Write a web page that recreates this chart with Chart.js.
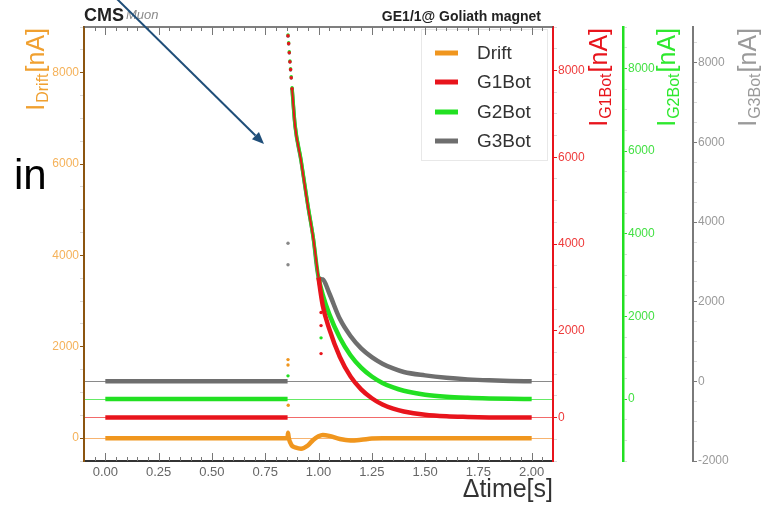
<!DOCTYPE html>
<html>
<head>
<meta charset="utf-8">
<title>GE1/1 currents at Goliath magnet</title>
<script src="https://cdn.jsdelivr.net/npm/chart.js@4.4.1/dist/chart.umd.min.js"></script>
<style>
  html, body { margin: 0; padding: 0; background: #fff; }
  #wrap { position: relative; width: 761px; height: 505px; }
  #side { position: absolute; left: 14px; top: 154px; font: 42px/42px "Liberation Sans", Arial, sans-serif; color: #000; }
</style>
</head>
<body>
<div id="wrap">
  <canvas id="chart" width="761" height="505"></canvas>
  <div id="side">in</div>
</div>
<script>
// sample times, seconds after the magnet ramp trigger
var time = [0.00, 0.20, 0.40, 0.60, 0.80, 0.855,
  0.857, 0.860, 0.863, 0.866, 0.869, 0.872, 0.876,
  0.89, 0.918, 0.95, 0.975, 1.00,
  1.02, 1.05, 1.10, 1.15, 1.20, 1.25, 1.30, 1.35, 1.40, 1.50, 1.60, 1.70, 1.80, 1.90, 2.00];

// currents in nA, one value per time sample
var drift = [0, 0, 0, 0, 0, 0,
  120, 20, -40, -80, -110, -140, -170,
  -200, -230, -160, -40, 40,
  70, 50, -20, -50, -35, -10, 0, 0, 0, 0, 0, 0, 0, 0, 0];
var g1Bot = [0, 0, 0, 0, 0, 0,
  8800, 8620, 8410, 8200, 8020, 7830, 7580,
  6730, 5920, 4880, 4150, 3230,
  2580, 2050, 1400, 950, 650, 445, 300, 205, 140, 65, 30, 15, 5, 0, 0];
var g2Bot = [0, 0, 0, 0, 0, 0,
  8810, 8620, 8400, 8180, 7990, 7800, 7530,
  6630, 5790, 4700, 3920, 2950,
  2520, 2060, 1480, 1060, 760, 545, 390, 280, 200, 105, 55, 30, 15, 5, 0];
var g3Bot = [0, 0, 0, 0, 0, 0,
  8670, 8470, 8245, 8020, 7820, 7620, 7345,
  6415, 5540, 4410, 3610, 2605,
  2560, 2220, 1570, 1140, 830, 610, 445, 325, 235, 150, 90, 50, 25, 10, 0];

// loose samples around the ramp, [time, current]
var driftStray = [[0.857, 1720], [0.857, 1600], [0.858, 720]];
var g1Stray = [[1.012, 2970], [1.012, 2420], [1.012, 2120], [1.012, 1475]];
var g2Stray = [[0.857, 560], [1.012, 1480]];
var g3Stray = [[0.857, 3470], [0.857, 2930]];

var xTicks = [0, 0.25, 0.5, 0.75, 1, 1.25, 1.5, 1.75, 2];

var FONT = '"Liberation Sans", Arial, Helvetica, sans-serif';
var col = { drift: '#f0961e', g1: '#e8141c', g2: '#22e022', g3: '#6e6e6e' };

function toPoints(vals) {
  return time.map(function (t, i) { return { x: t, y: vals[i] }; });
}
function strayPoints(list) {
  return list.map(function (p) { return { x: p[0], y: p[1] }; });
}

// the jump up and the first fast samples show only as dots
function rampDots(ctx) {
  var x = ctx.raw ? ctx.raw.x : 0;
  return x > 0.856 && x < 0.877 ? 1.7 : 0;
}
function gemSeries(label, vals, axis, color, rampWidth) {
  return {
    label: label, data: toPoints(vals), yAxisID: axis,
    borderColor: color, backgroundColor: color,
    borderWidth: 4.5, cubicInterpolationMode: 'monotone',
    pointRadius: rampDots, pointBorderWidth: 0, pointBackgroundColor: color,
    segment: {
      borderColor: function (c) {
        return c.p0.parsed.x >= 0.85 && c.p1.parsed.x <= 0.877 ? 'rgba(0,0,0,0)' : undefined;
      },
      borderWidth: function (c) {
        return c.p0.parsed.x >= 0.876 && c.p1.parsed.x <= 1.0 ? rampWidth : undefined;
      }
    }
  };
}
function strayDots(vals, axis, color) {
  return {
    label: '', data: strayPoints(vals), yAxisID: axis, showLine: false,
    pointRadius: 1.7, pointBorderWidth: 0, pointBackgroundColor: color, borderColor: color
  };
}

function yScale(pos, min, max, color, labelColor, zeroColor, width, borderWidth) {
  return {
    type: 'linear', position: pos, min: min, max: max,
    afterBuildTicks: function (axis) {
      var t = [];
      for (var v = Math.ceil(min / 500) * 500; v <= max; v += 500) t.push({ value: v });
      axis.ticks = t;
    },
    afterFit: function (scale) { scale.width = width; },
    ticks: {
      autoSkip: false, padding: 1, color: labelColor,
      font: { family: FONT, size: 12 },
      callback: function (v) { return v % 2000 === 0 ? String(v) : ''; }
    },
    grid: {
      drawOnChartArea: true, drawTicks: true, tickLength: 4, lineWidth: 1,
      color: function (c) { return c.tick && c.tick.value === 0 ? zeroColor : 'rgba(0,0,0,0)'; },
      tickColor: function (c) {
        return c.tick && c.tick.value % 2000 === 0 ? color : 'rgba(150,150,150,0.35)';
      }
    },
    border: { display: true, color: color, width: borderWidth }
  };
}

function vTitle(ctx, baseX, topY, sub, color) {
  var big = '25px ' + FONT, small = '16px ' + FONT;
  ctx.save();
  ctx.translate(baseX, topY);
  ctx.rotate(-Math.PI / 2);
  ctx.font = big;
  var wI = ctx.measureText('I').width, wU = ctx.measureText('[nA]').width;
  ctx.font = small;
  var wS = ctx.measureText(sub).width;
  var x0 = -(wI + wS + wU + 2);
  ctx.fillStyle = color;
  ctx.textAlign = 'left';
  ctx.textBaseline = 'alphabetic';
  ctx.font = big; ctx.fillText('I', x0, 0);
  ctx.font = small; ctx.fillText(sub, x0 + wI + 1, 4);
  ctx.font = big; ctx.fillText('[nA]', x0 + wI + wS + 2, 0);
  ctx.restore();
}

var decor = {
  id: 'decor',
  beforeDraw: function (chart) {
    var ctx = chart.ctx;
    ctx.save();
    ctx.fillStyle = '#fff';
    ctx.fillRect(0, 0, chart.width, chart.height);
    ctx.restore();
  },
  afterDatasetsDraw: function (chart) {
    var ctx = chart.ctx;
    // legend box
    ctx.save();
    ctx.fillStyle = '#fff';
    ctx.strokeStyle = '#e8e8e8';
    ctx.lineWidth = 1;
    ctx.fillRect(421, 29, 126, 131);
    ctx.strokeRect(421.5, 29.5, 126, 131);
    var rows = [53, 82, 112, 141];
    chart.data.datasets.slice(0, 4).forEach(function (ds, i) {
      ctx.strokeStyle = ds.borderColor;
      ctx.lineWidth = 5;
      ctx.beginPath();
      ctx.moveTo(435, rows[i]);
      ctx.lineTo(458, rows[i]);
      ctx.stroke();
      ctx.fillStyle = '#333';
      ctx.font = '19px ' + FONT;
      ctx.textBaseline = 'middle';
      ctx.fillText(ds.label, 477, rows[i] + 1);
    });
    ctx.restore();
  },
  afterDraw: function (chart) {
    var ctx = chart.ctx, a = chart.chartArea, x = chart.scales.x;
    ctx.save();
    // top frame and inward time ticks
    ctx.strokeStyle = '#555';
    ctx.lineWidth = 1.5;
    ctx.beginPath();
    ctx.moveTo(a.left, a.top);
    ctx.lineTo(a.right, a.top);
    ctx.stroke();
    ctx.lineWidth = 1;
    ctx.strokeStyle = '#777';
    for (var i = -1; i <= 41; i++) {
      var px = Math.round(x.getPixelForValue(i * 0.05)) + 0.5;
      var len = i % 5 === 0 ? 8 : 4;
      ctx.beginPath();
      ctx.moveTo(px, a.bottom);
      ctx.lineTo(px, a.bottom - len);
      ctx.moveTo(px, a.top);
      ctx.lineTo(px, a.top + len);
      ctx.stroke();
    }
    // header texts
    ctx.fillStyle = '#222';
    ctx.textBaseline = 'alphabetic';
    ctx.font = 'bold 18px ' + FONT;
    ctx.fillText('CMS', 84, 21);
    var wCms = ctx.measureText('CMS').width;
    ctx.fillStyle = '#8a8a8a';
    ctx.font = 'italic 13px ' + FONT;
    ctx.fillText('Muon', 84 + wCms + 2, 19);
    ctx.fillStyle = '#222';
    ctx.font = 'bold 14px ' + FONT;
    ctx.textAlign = 'right';
    ctx.fillText('GE1/1@ Goliath magnet', 541, 21);
    ctx.textAlign = 'left';
    // axis titles
    vTitle(ctx, 44, 28, 'Drift', '#f0a030');
    vTitle(ctx, chart.scales.yG1.left + 54, 28, 'G1Bot', '#e8141c');
    vTitle(ctx, chart.scales.yG2.left + 52, 28, 'G2Bot', '#2ee82e');
    vTitle(ctx, chart.scales.yG3.left + 63, 28, 'G3Bot', '#9a9a9a');
    // annotation arrow
    var tx = 264, ty = 144, dx = 147, dy = 145, d = Math.sqrt(dx * dx + dy * dy);
    var ux = dx / d, uy = dy / d, bx = tx - 12 * ux, by = ty - 12 * uy;
    ctx.strokeStyle = '#1f4e79';
    ctx.fillStyle = '#1f4e79';
    ctx.lineWidth = 2;
    ctx.beginPath();
    ctx.moveTo(tx - dx, ty - dy);
    ctx.lineTo(bx, by);
    ctx.stroke();
    ctx.beginPath();
    ctx.moveTo(tx, ty);
    ctx.lineTo(bx - 5 * uy, by + 5 * ux);
    ctx.lineTo(bx + 5 * uy, by - 5 * ux);
    ctx.closePath();
    ctx.fill();
    ctx.restore();
  }
};

new Chart(document.getElementById('chart'), {
  type: 'line',
  data: {
    datasets: [
      {
        label: 'Drift', data: toPoints(drift), yAxisID: 'yDrift',
        borderColor: col.drift, backgroundColor: col.drift, borderWidth: 4.5,
        cubicInterpolationMode: 'monotone', pointRadius: 0
      },
      gemSeries('G1Bot', g1Bot, 'yG1', col.g1, 2),
      gemSeries('G2Bot', g2Bot, 'yG2', col.g2, 3.5),
      gemSeries('G3Bot', g3Bot, 'yG3', col.g3, 3.5),
      strayDots(driftStray, 'yDrift', col.drift),
      strayDots(g1Stray, 'yG1', col.g1),
      strayDots(g2Stray, 'yG2', col.g2),
      strayDots(g3Stray, 'yG3', '#888')
    ]
  },
  options: {
    responsive: false,
    animation: false,
    layout: { padding: { top: 27, right: 0, bottom: 0, left: 0 } },
    plugins: { legend: { display: false }, tooltip: { enabled: false } },
    scales: {
      x: {
        type: 'linear', min: -0.1, max: 2.1,
        afterBuildTicks: function (axis) {
          axis.ticks = xTicks.map(function (v) { return { value: v }; });
        },
        afterFit: function (scale) { scale.height = 44; },
        ticks: {
          autoSkip: false, maxRotation: 0, padding: 4, color: '#666',
          font: { family: FONT, size: 13 },
          callback: function (v) { return Number(v).toFixed(2); }
        },
        grid: { display: false, drawTicks: false },
        border: { display: true, color: '#333', width: 2 },
        title: {
          display: true, text: 'Δtime[s]', align: 'end', color: '#333',
          font: { family: FONT, size: 25 }, padding: { top: 0, bottom: 0 }
        }
      },
      yDrift: yScale('left', -500, 9000, '#8c5510', '#f5b25a', '#f7b470', 84, 2),
      yG1: yScale('right', -1000, 9000, '#e8141c', '#ee3b3b', '#f26a6a', 70, 2),
      yG2: yScale('right', -1500, 9000, '#22e022', '#44e044', '#66ea66', 70, 2.5),
      yG3: yScale('right', -2000, 8900, '#7a7a7a', '#9a9a9a', '#8a8a8a', 68, 2)
    }
  },
  plugins: [decor]
});
</script>
</body>
</html>
